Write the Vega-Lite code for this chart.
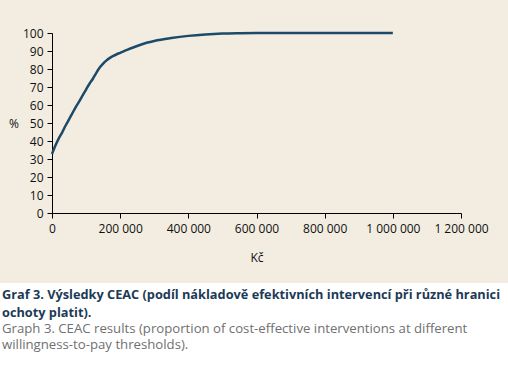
{
  "$schema": "https://vega.github.io/schema/vega-lite/v6.json",
  "background": "#f3ede1",
  "padding": {"top": 27, "left": 0, "right": 0, "bottom": 0},
  "spacing": 20,
  "columns": 1,
  "config": {
    "font": "Open Sans",
    "view": {"stroke": null},
    "axis": {
      "grid": false,
      "domainColor": "#000000",
      "tickColor": "#000000",
      "labelColor": "#111111",
      "titleColor": "#111111",
      "labelFontSize": 12,
      "titleFontSize": 12,
      "titleFontWeight": "normal",
      "tickSize": 5,
      "labelPadding": 4
    }
  },
  "concat": [
    {
      "width": 461,
      "height": 180,
      "data": {
        "values": [
          {"wtp": 0, "pct": 32.8},
          {"wtp": 10000, "pct": 37.5},
          {"wtp": 20000, "pct": 41.5},
          {"wtp": 30000, "pct": 44.8},
          {"wtp": 40000, "pct": 48.6},
          {"wtp": 50000, "pct": 52},
          {"wtp": 60000, "pct": 55.5},
          {"wtp": 70000, "pct": 59},
          {"wtp": 80000, "pct": 62},
          {"wtp": 90000, "pct": 65.3},
          {"wtp": 100000, "pct": 68.6},
          {"wtp": 110000, "pct": 71.8},
          {"wtp": 120000, "pct": 74.6},
          {"wtp": 130000, "pct": 77.9},
          {"wtp": 140000, "pct": 80.8},
          {"wtp": 150000, "pct": 83},
          {"wtp": 160000, "pct": 84.8},
          {"wtp": 170000, "pct": 86.2},
          {"wtp": 180000, "pct": 87.3},
          {"wtp": 190000, "pct": 88.2},
          {"wtp": 200000, "pct": 89},
          {"wtp": 220000, "pct": 90.6},
          {"wtp": 240000, "pct": 92.1},
          {"wtp": 260000, "pct": 93.5},
          {"wtp": 280000, "pct": 94.7},
          {"wtp": 300000, "pct": 95.6},
          {"wtp": 350000, "pct": 97.2},
          {"wtp": 400000, "pct": 98.4},
          {"wtp": 450000, "pct": 99.2},
          {"wtp": 500000, "pct": 99.7},
          {"wtp": 550000, "pct": 99.9},
          {"wtp": 600000, "pct": 100},
          {"wtp": 700000, "pct": 100},
          {"wtp": 800000, "pct": 100},
          {"wtp": 900000, "pct": 100},
          {"wtp": 1000000, "pct": 100}
        ]
      },
      "mark": {"type": "line", "color": "#1c4a68", "strokeWidth": 2.5, "interpolate": "monotone", "clip": false},
      "encoding": {
        "x": {
          "field": "wtp",
          "type": "quantitative",
          "scale": {"domain": [0, 1200000], "nice": false, "range": [52, 461]},
          "axis": {
            "title": "Kč",
            "values": [0, 200000, 400000, 600000, 800000, 1000000, 1200000],
            "labelExpr": "replace(format(datum.value, ','), /,/g, ' ')",
            "labelFlush": false,
            "labelOverlap": false,
            "labelPadding": 5,
            "titlePadding": 18
          }
        },
        "y": {
          "field": "pct",
          "type": "quantitative",
          "scale": {"domain": [0, 100], "nice": false},
          "axis": {
            "title": "%",
            "offset": -52,
            "values": [0, 10, 20, 30, 40, 50, 60, 70, 80, 90, 100],
            "titleAngle": 0,
            "titleAlign": "right",
            "titleBaseline": "middle",
            "titlePadding": 4
          }
        }
      }
    },
    {
      "width": 508,
      "height": 91,
      "view": {"fill": "#ffffff", "stroke": null},
      "data": {"values": []},
      "mark": {"type": "text"},
      "encoding": {},
      "title": {
        "text": ["Graf 3. Výsledky CEAC (podíl nákladově efektivních intervencí při různé hranici", "ochoty platit)."],
        "subtitle": ["Graph 3. CEAC results (proportion of cost-effective interventions at different", "willingness-to-pay thresholds)."],
        "orient": "bottom",
        "anchor": "start",
        "frame": "group",
        "offset": -85,
        "dx": 2,
        "font": "Open Sans",
        "fontSize": 12.75,
        "fontWeight": "bold",
        "color": "#1c3a56",
        "lineHeight": 17.5,
        "subtitleFont": "Open Sans",
        "subtitleFontSize": 13.2,
        "subtitleFontWeight": "normal",
        "subtitleColor": "#707070",
        "subtitleLineHeight": 16,
        "subtitlePadding": 4
      }
    }
  ]
}
